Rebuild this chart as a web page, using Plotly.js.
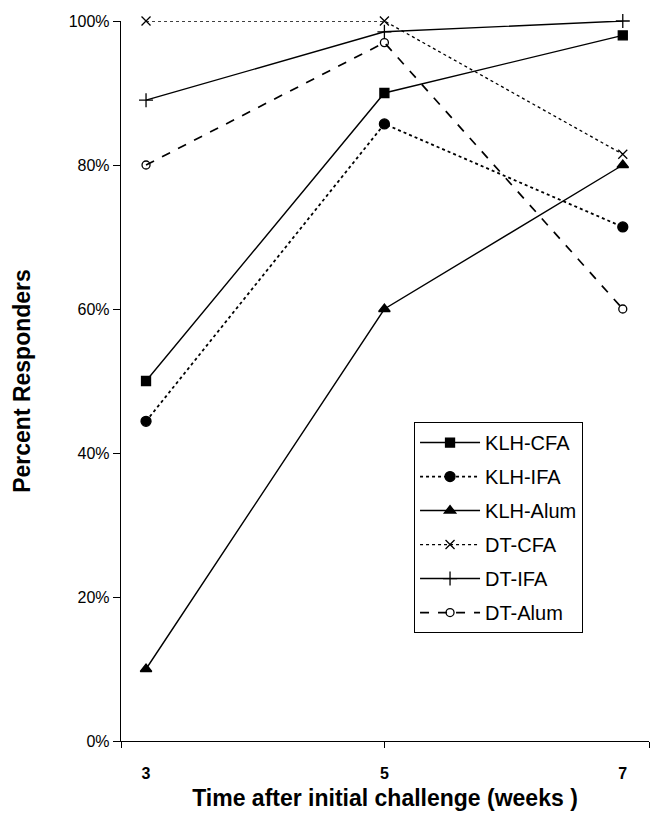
<!DOCTYPE html>
<html>
<head>
<meta charset="utf-8">
<script src="https://cdn.plot.ly/plotly-3.0.1.min.js"></script>
<style>html,body{margin:0;padding:0;background:#fff;}#chart{width:653px;height:814px;}</style>
</head>
<body>
<div id="chart"></div>
<script>
var weeks = [3, 5, 7];
var klhCFA = [50, 90, 98];
var klhIFA = [44.4, 85.7, 71.4];
var klhAlum = [10, 60, 80];
var dtCFA = [100, 100, 81.5];
var dtIFA = [89, 98.5, 100];
var dtAlum = [80, 97, 60];
var yTicks = [0, 20, 40, 60, 80, 100];
var yTickText = ['0%', '20%', '40%', '60%', '80%', '100%'];

var xRange = [2.79, 7.22];

function tr(name, y, dash, width, symbol, size, group) {
  return {
    x: weeks, y: y, name: name, type: 'scatter', mode: 'lines+markers',
    legendgroup: group,
    line: {color: '#000', width: width, dash: dash},
    marker: {symbol: symbol, size: size, color: '#000', line: {color: '#000', width: 1.3}},
    cliponaxis: false
  };
}

var data = [
  tr('KLH-CFA', klhCFA, 'solid', 1.4, 'square', 9, 'a'),
  tr('KLH-IFA', klhIFA, 'dot', 1.8, 'circle', 10, 'b'),
  tr('KLH-Alum', klhAlum, 'solid', 1.4, 'triangle-up', 10, 'c'),
  tr('DT-CFA', dtCFA, 'dot', 1.3, 'x-thin-open', 9, 'd'),
  tr('DT-IFA', dtIFA, 'solid', 1.4, 'cross-thin-open', 10, 'e'),
  tr('DT-Alum', dtAlum, 'dash', 1.7, 'circle-open', 8, 'f'),
  {x: weeks, y: klhCFA, xaxis: 'x2', type: 'scatter', mode: 'none', showlegend: false, hoverinfo: 'skip'}
];

var layout = {
  width: 653, height: 814,
  margin: {l: 121, r: 4, t: 21, b: 73},
  paper_bgcolor: '#fff', plot_bgcolor: '#fff',
  font: {family: 'Arial, Liberation Sans, sans-serif', color: '#000'},
  showlegend: true,
  legend: {
    x: 0.555, y: 0.443, xanchor: 'left', yanchor: 'top',
    bordercolor: '#000', borderwidth: 1, bgcolor: '#fff',
    font: {size: 20, color: '#000'},
    tracegroupgap: 5,
    itemwidth: 60
  },
  xaxis: {
    range: xRange, tickvals: weeks, ticktext: weeks.map(function (w) { return '<b>' + w + '</b>'; }),
    ticks: '', showgrid: false, zeroline: false,
    showline: true, linecolor: '#000', linewidth: 1.2,
    tickfont: {size: 16, family: 'Arial, Liberation Sans, sans-serif'},
    ticklabelstandoff: 18,
    title: {text: '<b>Time after initial challenge (weeks )</b>', font: {size: 23}, standoff: 8}
  },
  xaxis2: {
    overlaying: 'x', matches: 'x', range: xRange, side: 'bottom',
    tickvals: [xRange[0], weeks[1], xRange[1]], showticklabels: false,
    ticks: 'outside', ticklen: 6, tickcolor: '#000', tickwidth: 1,
    showgrid: false, zeroline: false, showline: false
  },
  yaxis: {
    range: [0, 100], tickvals: yTicks, ticktext: yTickText,
    ticks: 'outside', ticklen: 7, tickcolor: '#000', tickwidth: 1,
    showgrid: false, zeroline: false,
    showline: true, linecolor: '#000', linewidth: 1.2,
    tickfont: {size: 16},
    title: {text: '<b>Percent Responders</b>', font: {size: 23}, standoff: 31}
  }
};

Plotly.newPlot('chart', data, layout, {staticPlot: true});
</script>
</body>
</html>
